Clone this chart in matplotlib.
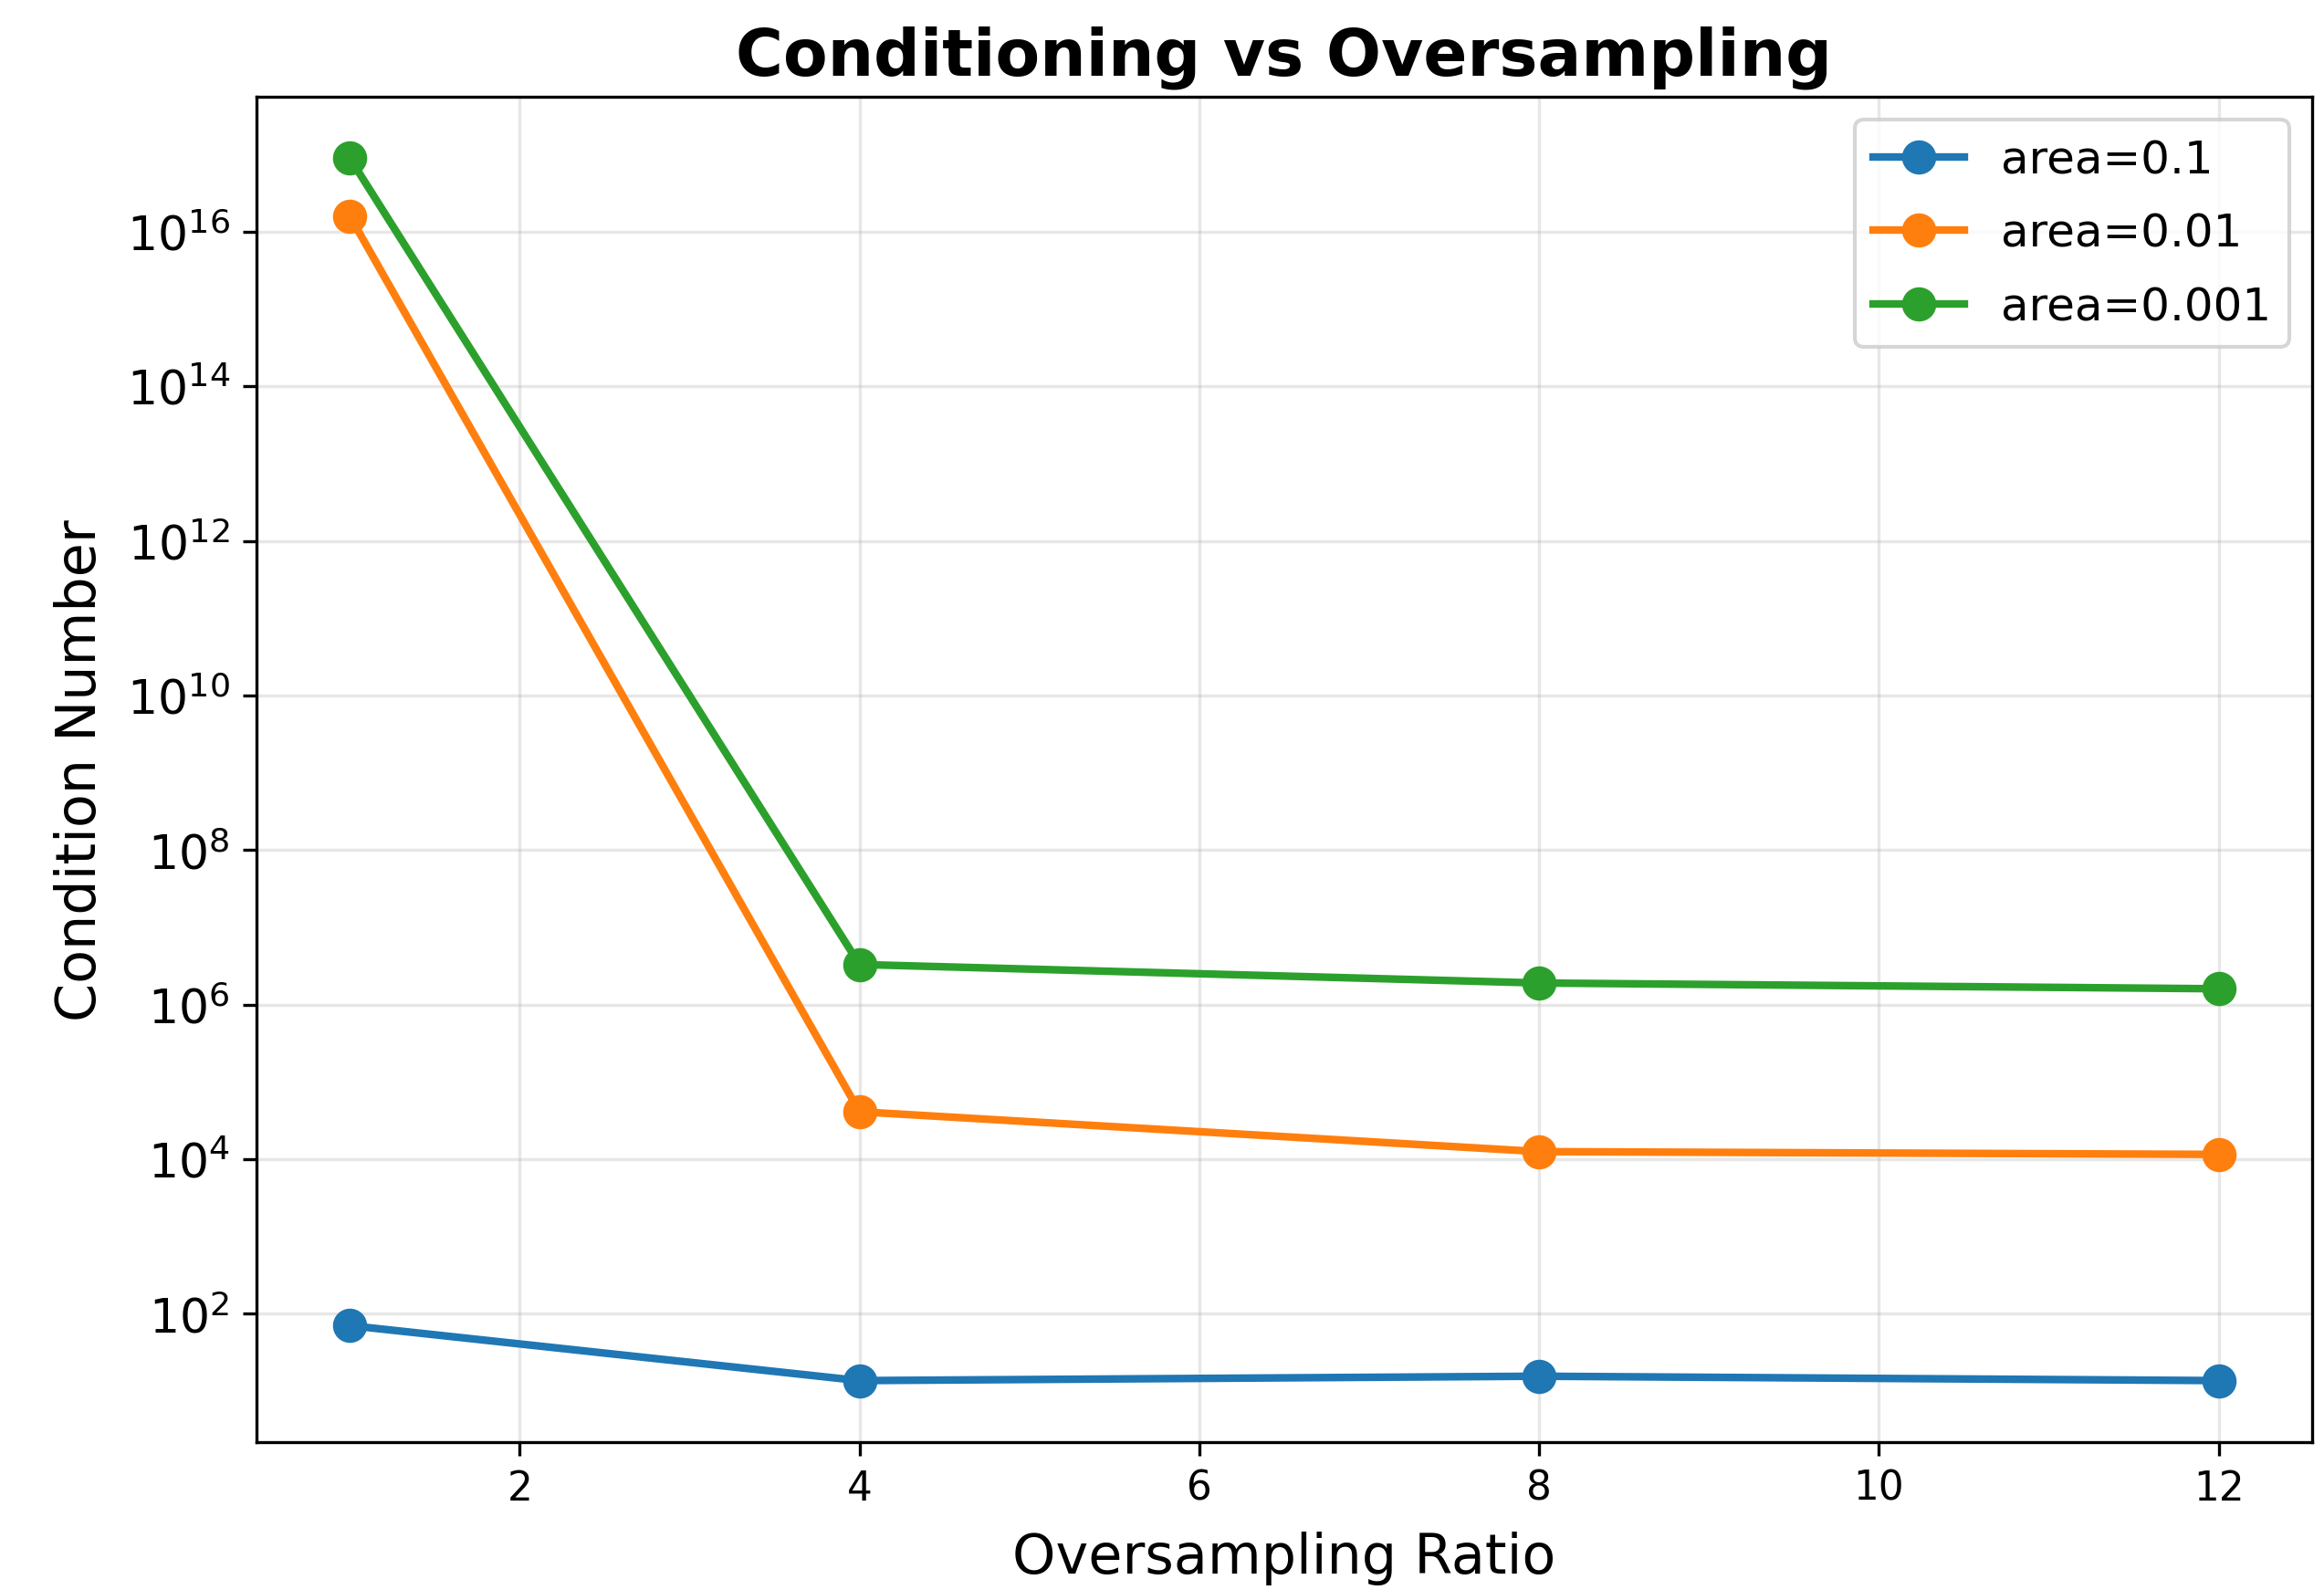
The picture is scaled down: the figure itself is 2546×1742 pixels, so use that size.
import numpy as np
import matplotlib.pyplot as plt

# oversampling ratios and condition numbers
ratios = [1, 4, 8, 12]
cond_01 = [70, 13.6, 15.5, 13.6]
cond_001 = [1.6e16, 4.1e4, 1.25e4, 1.15e4]
cond_0001 = [9e16, 3.3e6, 1.9e6, 1.6e6]
labels = ['area=0.1', 'area=0.01', 'area=0.001']

fig = plt.figure(figsize=(2546 / 300, 1743 / 300), dpi=300)
ax = fig.add_axes([0.1103, 0.0932, 0.8846, 0.8453])

for vals, lab in zip([cond_01, cond_001, cond_0001], labels):
    ax.plot(ratios, vals, marker='o', linewidth=2, markersize=8, label=lab)

ax.set_yscale('log')
ax.set_title('Conditioning vs Oversampling', fontsize=17, fontweight='bold', pad=6)
ax.set_xlabel('Oversampling Ratio', fontsize=14.5, labelpad=6)
ax.set_ylabel('Condition Number', fontsize=14.5, labelpad=5)
ax.tick_params(axis='x', labelsize=10.5)
ax.tick_params(axis='y', labelsize=12.5)
ax.grid(True, alpha=0.3)
ax.legend(fontsize=12, loc='upper right', labelspacing=0.65)

fig.savefig('out.png', dpi=300)
